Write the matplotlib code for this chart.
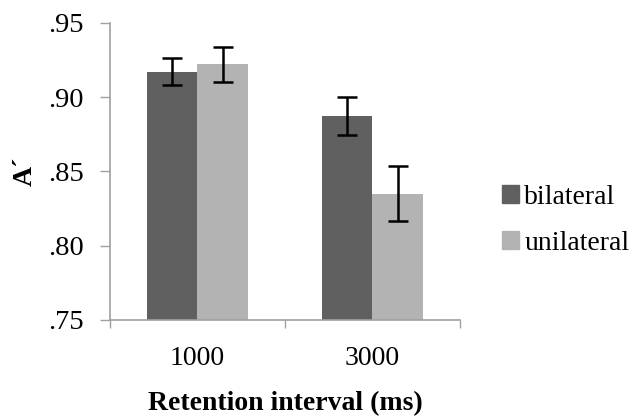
import numpy as np
import matplotlib
matplotlib.use("Agg")
import matplotlib.pyplot as plt
from matplotlib.patches import Patch

intervals = ["1000", "3000"]
bilateral = [0.917, 0.887]
unilateral = [0.922, 0.835]
bilateral_err = [0.0092, 0.0128]
unilateral_err = [0.0118, 0.0187]
yticks = [0.75, 0.80, 0.85, 0.90, 0.95]
ytick_labels = [".75", ".80", ".85", ".90", ".95"]

plt.rcParams['font.family'] = ['Liberation Serif', 'DejaVu Serif']

fig = plt.figure(figsize=(6.38, 4.16), dpi=100)
ax = fig.add_axes([0.1724, 0.2308, 0.5486, 0.7146])

x = np.arange(len(intervals))
w = 0.286
dark = "#606060"
light = "#b3b3b3"

ax.bar(x - w/2, bilateral, w, color=dark, zorder=2)
ax.bar(x + w/2, unilateral, w, color=light, zorder=2)
ax.errorbar(x - w/2, bilateral, yerr=bilateral_err, fmt='none', ecolor='black',
            elinewidth=1.8, capsize=7, capthick=1.8, zorder=3)
ax.errorbar(x + w/2, unilateral, yerr=unilateral_err, fmt='none', ecolor='black',
            elinewidth=1.8, capsize=7, capthick=1.8, zorder=3)

ax.set_xlim(-0.5, 1.5)
ax.set_ylim(0.75, 0.95)
ax.set_yticks(yticks)
ax.set_yticklabels(ytick_labels, fontsize=20.5)
ax.set_xticks(x)
ax.set_xticklabels(intervals, fontsize=20)
ax.set_xticks([-0.5, 0.5, 1.5], minor=True)
ax.tick_params(axis='x', which='major', length=0, pad=19)
ax.tick_params(axis='x', which='minor', length=6, width=1, color='#a0a0a0', direction='out')
ax.tick_params(axis='y', length=7, width=1, color='#a0a0a0', direction='out', pad=12)

for s in ['top', 'right']:
    ax.spines[s].set_visible(False)
for s in ['left', 'bottom']:
    ax.spines[s].set_color('#a0a0a0')
    ax.spines[s].set_linewidth(1.2)

ax.set_xlabel("Retention interval (ms)", fontsize=20, fontweight='bold', labelpad=14)
ax.set_ylabel("A\u00b4", fontsize=20, fontweight='bold', labelpad=7)

handles = [Patch(color=dark, label="bilateral"), Patch(color=light, label="unilateral")]
fig.legend(handles=handles, loc='center left', bbox_to_anchor=(0.748, 0.47),
           frameon=False, fontsize=20, handlelength=0.6, handleheight=0.6,
           handletextpad=0.2, labelspacing=0.75)

fig.savefig("out.png", dpi=100)
